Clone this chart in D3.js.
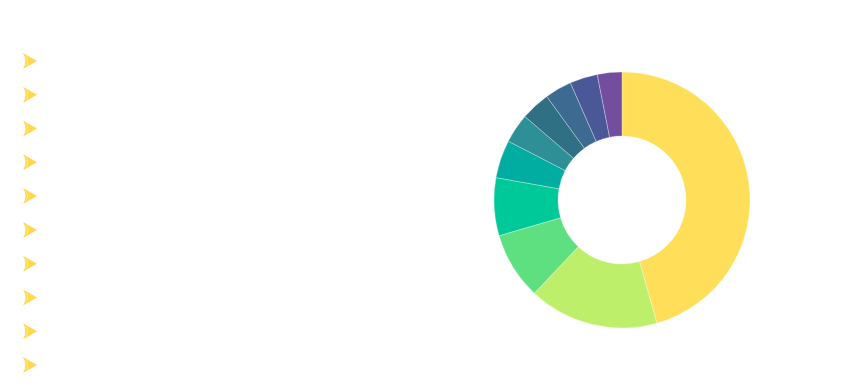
<!DOCTYPE html>
<html>
<head>
<meta charset="utf-8">
<script src="https://cdn.jsdelivr.net/npm/d3@7/dist/d3.min.js"></script>
<style>
  html, body { margin: 0; padding: 0; background: #fff; }
  svg { display: block; }
</style>
</head>
<body>
<svg id="chart"></svg>
<script>
// data (shares in %, clockwise from 12 o'clock)
const categories = ["A", "B", "C", "D", "E", "F", "G", "H", "I", "J"];
const values = [45.6, 16.4, 8.5, 7.3, 4.8, 3.7, 3.7, 3.4, 3.5, 3.1];
const colors = ["#ffde59", "#bdef6b", "#5ee080", "#00c999", "#00ada0",
                "#2e8f96", "#2f7084", "#3d6a91", "#4a5897", "#744e9e"];
const listItems = ["", "", "", "", "", "", "", "", "", ""];

const width = 852, height = 386;
const svg = d3.select("#chart").attr("width", width).attr("height", height);

// ---- donut ----
const cx = 622, cy = 200, rOuter = 128, rInner = 64;

const pie = d3.pie().sort(null).value(d => d.value);
const arc = d3.arc().innerRadius(rInner).outerRadius(rOuter);

const slices = pie(categories.map((c, i) => ({ name: c, value: values[i] })));

svg.append("g")
  .attr("transform", `translate(${cx},${cy})`)
  .selectAll("path")
  .data(slices)
  .join("path")
  .attr("d", arc)
  .attr("fill", (d, i) => colors[i])
  .attr("stroke", "rgba(255,255,255,0.6)")
  .attr("stroke-width", 0.5);

// ---- left list of arrow bullets ----
const y = d3.scalePoint().domain(d3.range(listItems.length)).range([61, 365]);

const item = svg.append("g")
  .selectAll("g")
  .data(listItems)
  .join("g")
  .attr("transform", (d, i) => `translate(23,${y(i)})`);

item.append("path")
  .attr("d", "M0,-8 L14,0 L0,8 Q5,0 0,-8 Z")
  .attr("fill", "#ffd84e");

item.append("path")
  .attr("d", "M3,-5 Q6.5,0 3,5")
  .attr("fill", "none")
  .attr("stroke", "#ffeaa0")
  .attr("stroke-width", 0.8);

item.append("text")
  .attr("x", 24)
  .attr("dy", "0.35em")
  .attr("fill", "#fff")
  .style("font", "13px 'Noto Sans', sans-serif")
  .text(d => d);
</script>
</body>
</html>
